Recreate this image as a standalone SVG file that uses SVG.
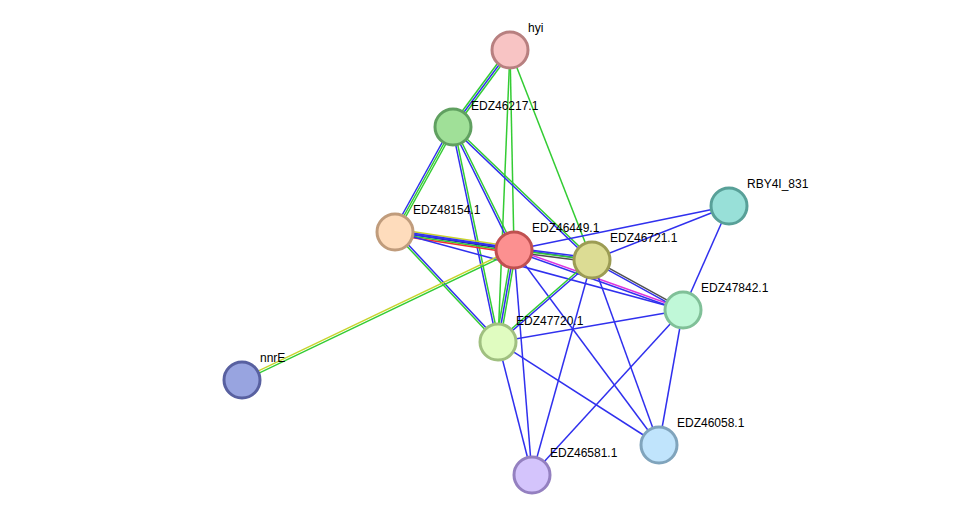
<svg xmlns="http://www.w3.org/2000/svg" width="976" height="520" viewBox="0 0 976 520">
<style>
line{stroke-width:1.5}
.g{stroke:#33cc33}.b{stroke:#3030ee}.y{stroke:#c8d42c}.k{stroke:#505050}.r{stroke:#ee3030}.m{stroke:#dd33dd}.n{stroke:#2020a0}
circle{stroke-width:3}
text{font-family:"Liberation Sans",Arial,sans-serif;font-size:12px;fill:#000}
</style>
<rect width="976" height="520" fill="#fff"/>
<g id="edges">
<line class="g" x1="508.4" y1="48.8" x2="451.4" y2="125.8"/><line class="b" x1="510" y1="50" x2="453" y2="127"/><line class="g" x1="511.6" y1="51.2" x2="454.6" y2="128.2"/>
<line class="g" x1="510" y1="50" x2="514" y2="250"/>
<line class="g" x1="510" y1="50" x2="498" y2="342"/>
<line class="g" x1="510" y1="50" x2="592" y2="260"/>
<line class="b" x1="451.3" y1="126" x2="393.3" y2="231"/><line class="g" x1="453" y1="127" x2="395" y2="232"/><line class="g" x1="454.7" y1="128" x2="396.7" y2="233"/>
<line class="b" x1="452" y1="127.2" x2="497" y2="342.2"/><line class="g" x1="454" y1="126.8" x2="499" y2="341.8"/>
<line class="b" x1="452.1" y1="127.5" x2="513.1" y2="250.5"/><line class="g" x1="453.9" y1="126.5" x2="514.9" y2="249.5"/>
<line class="b" x1="452.3" y1="127.7" x2="591.3" y2="260.7"/><line class="g" x1="453.7" y1="126.3" x2="592.7" y2="259.3"/>
<line class="y" x1="395.45" y1="229" x2="514.45" y2="247"/><line class="b" x1="395.2" y1="230.5" x2="514.2" y2="248.5"/><line class="n" x1="395" y1="232" x2="514" y2="250"/><line class="g" x1="394.8" y1="233.5" x2="513.8" y2="251.5"/><line class="r" x1="394.55" y1="235" x2="513.55" y2="253"/>
<line class="b" x1="395" y1="232" x2="592" y2="260"/>
<line class="b" x1="395" y1="232" x2="683" y2="310"/>
<line class="g" x1="394.3" y1="232.7" x2="497.3" y2="342.7"/><line class="b" x1="395.7" y1="231.3" x2="498.7" y2="341.3"/>
<line class="b" x1="514.3" y1="248" x2="592.3" y2="258"/><line class="g" x1="514" y1="250" x2="592" y2="260"/><line class="k" x1="513.7" y1="252" x2="591.7" y2="262"/>
<line class="m" x1="514.3" y1="249" x2="683.3" y2="309"/><line class="b" x1="513.7" y1="251" x2="682.7" y2="311"/>
<line class="g" x1="512" y1="249.7" x2="496" y2="341.7"/><line class="b" x1="514" y1="250" x2="498" y2="342"/><line class="g" x1="516" y1="250.3" x2="500" y2="342.3"/>
<line class="b" x1="514" y1="250" x2="729" y2="206"/>
<line class="b" x1="514" y1="250" x2="532" y2="475"/>
<line class="b" x1="514" y1="250" x2="659" y2="445"/>
<line class="y" x1="513.5" y1="249" x2="241.5" y2="379"/><line class="g" x1="514.5" y1="251" x2="242.5" y2="381"/>
<line class="k" x1="592.5" y1="259.1" x2="683.5" y2="309.1"/><line class="b" x1="591.5" y1="260.9" x2="682.5" y2="310.9"/>
<line class="g" x1="591.3" y1="259.3" x2="497.3" y2="341.3"/><line class="b" x1="592.7" y1="260.7" x2="498.7" y2="342.7"/>
<line class="b" x1="592" y1="260" x2="729" y2="206"/>
<line class="b" x1="592" y1="260" x2="532" y2="475"/>
<line class="b" x1="592" y1="260" x2="659" y2="445"/>
<line class="b" x1="683" y1="310" x2="729" y2="206"/>
<line class="b" x1="683" y1="310" x2="498" y2="342"/>
<line class="b" x1="683" y1="310" x2="532" y2="475"/>
<line class="b" x1="683" y1="310" x2="659" y2="445"/>
<line class="b" x1="498" y1="342" x2="532" y2="475"/>
<line class="b" x1="498" y1="342" x2="659" y2="445"/>
</g>
<g id="hyi"><circle cx="510" cy="50" r="18" fill="#f8c4c4" stroke="#b88080"/><text x="528" y="32">hyi</text></g>
<g id="EDZ46217.1"><circle cx="453" cy="127" r="18" fill="#a0e098" stroke="#60a060"/><text x="471" y="110">EDZ46217.1</text></g>
<g id="EDZ48154.1"><circle cx="395" cy="232" r="18" fill="#fedcbc" stroke="#c09c7c"/><text x="413" y="214">EDZ48154.1</text></g>
<g id="EDZ46449.1"><circle cx="514" cy="250" r="18" fill="#fc9090" stroke="#c05050"/><text x="532" y="232">EDZ46449.1</text></g>
<g id="EDZ46721.1"><circle cx="592" cy="260" r="18" fill="#dcdc94" stroke="#9c9c54"/><text x="610" y="242">EDZ46721.1</text></g>
<g id="RBY4I_831"><circle cx="729" cy="206" r="18" fill="#98e0d8" stroke="#58a098"/><text x="747" y="188">RBY4I_831</text></g>
<g id="EDZ47842.1"><circle cx="683" cy="310" r="18" fill="#c0f8d8" stroke="#80c098"/><text x="701" y="292">EDZ47842.1</text></g>
<g id="EDZ47720.1"><circle cx="498" cy="342" r="18" fill="#e0fcc0" stroke="#a0c080"/><text x="516" y="325">EDZ47720.1</text></g>
<g id="nnrE"><circle cx="242" cy="380" r="18" fill="#98a4e0" stroke="#5860a0"/><text x="260" y="362">nnrE</text></g>
<g id="EDZ46581.1"><circle cx="532" cy="475" r="18" fill="#d4c4fc" stroke="#9480c0"/><text x="550" y="457">EDZ46581.1</text></g>
<g id="EDZ46058.1"><circle cx="659" cy="445" r="18" fill="#c0e4fc" stroke="#80a4bc"/><text x="677" y="427">EDZ46058.1</text></g>
</svg>
